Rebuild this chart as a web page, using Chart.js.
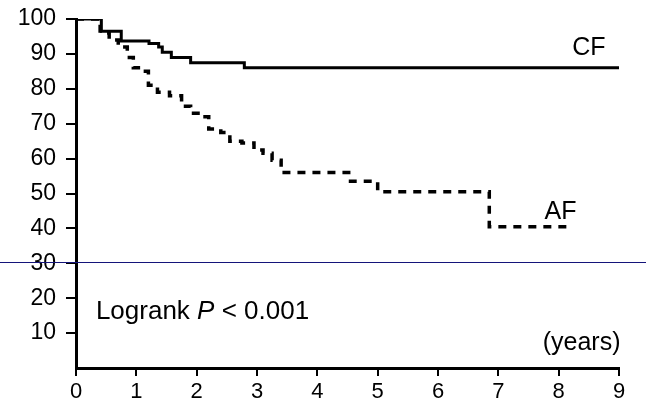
<!DOCTYPE html>
<html>
<head>
<meta charset="utf-8">
<script src="https://cdn.jsdelivr.net/npm/chart.js@4"></script>
<style>
  html, body { margin: 0; padding: 0; background: #fff; }
  #wrap { width: 646px; height: 408px; }
</style>
</head>
<body>
<div id="wrap"><canvas id="myChart" width="646" height="408"></canvas></div>
<script>
// survival curves (years, % event free)
const cfYears = [0, 0.27, 0.42, 0.75, 1.21, 1.37, 1.43, 1.58, 1.9, 2.79, 9.05];
const cfValues = [100, 100, 96.5, 93.7, 93, 92, 90.5, 89, 87.5, 86, 86];

const afYears = [0, 0.4, 0.55, 0.7, 0.85, 0.95, 1.1, 1.2, 1.35, 1.55, 1.75, 1.9, 2.1, 2.2, 2.4, 2.55, 2.75, 2.95, 3.1, 3.25, 3.4, 4.55, 5.0, 6.85, 8.2];
const afValues = [100, 96, 94, 92, 89, 86, 85, 81, 79, 78, 75, 73, 72, 68.5, 67.5, 65, 64.5, 62.5, 61.5, 59.5, 56, 53.5, 50.5, 40.5, 40.5];

const xTicks = [0, 1, 2, 3, 4, 5, 6, 7, 8, 9];
const yTicks = [10, 20, 30, 40, 50, 60, 70, 80, 90, 100];

const FONT = '"Liberation Sans", Arial, Helvetica, sans-serif';

// curve labels and the p-value note, placed in data units
const notesPlugin = {
  id: 'notes',
  afterDraw(chart) {
    const { ctx, scales: { x, y } } = chart;
    ctx.save();
    ctx.fillStyle = '#000';
    ctx.textBaseline = 'middle';

    ctx.font = '25px ' + FONT;
    ctx.textAlign = 'center';
    ctx.fillText('CF', x.getPixelForValue(8.5), y.getPixelForValue(91.7));
    ctx.fillText('AF', x.getPixelForValue(8.03), y.getPixelForValue(44.7));
    ctx.fillText('(years)', x.getPixelForValue(8.38), y.getPixelForValue(7.2));

    // "Logrank P < 0.001" with italic P
    ctx.textAlign = 'left';
    let px = x.getPixelForValue(0.33);
    const py = y.getPixelForValue(16);
    ctx.font = '26px ' + FONT;
    ctx.fillText('Logrank ', px, py);
    px += ctx.measureText('Logrank ').width;
    ctx.font = 'italic 26px ' + FONT;
    ctx.fillText('P', px, py);
    px += ctx.measureText('P').width;
    ctx.font = '26px ' + FONT;
    ctx.fillText(' < 0.001', px, py);

    // the thin blue scan line across the page
    const by = Math.round(y.getPixelForValue(30.3)) + 0.5;
    ctx.strokeStyle = '#14147a';
    ctx.lineWidth = 1;
    ctx.beginPath();
    ctx.moveTo(0, by);
    ctx.lineTo(chart.width, by);
    ctx.stroke();
    ctx.restore();
  }
};

const ctx = document.getElementById('myChart').getContext('2d');
const chart = new Chart(ctx, {
  type: 'line',
  data: {
    datasets: [
      {
        label: 'CF',
        data: cfYears.map((t, i) => ({ x: t, y: cfValues[i] })),
        borderColor: '#000',
        borderWidth: 3,
        stepped: true,
        pointRadius: 0,
        fill: false
      },
      {
        label: 'AF',
        data: afYears.map((t, i) => ({ x: t, y: afValues[i] })),
        borderColor: '#000',
        borderWidth: 3.5,
        borderDash: [8, 7],
        stepped: true,
        pointRadius: 0,
        fill: false
      }
    ]
  },
  options: {
    responsive: false,
    animation: false,
    layout: { padding: { top: 19, right: 27, left: 0, bottom: 0 } },
    plugins: {
      legend: { display: false },
      tooltip: { enabled: false }
    },
    scales: {
      x: {
        type: 'linear',
        min: 0,
        max: 9,
        afterBuildTicks: (s) => { s.ticks = xTicks.map(v => ({ value: v })); },
        afterFit: (s) => { s.height = 40; s.paddingLeft = 0; s.paddingRight = 0; },
        border: { color: '#000', width: 3 },
        grid: { drawOnChartArea: false, color: '#000', lineWidth: 2, tickLength: 8 },
        ticks: { color: '#000', font: { family: FONT, size: 22 }, padding: 3, maxRotation: 0 }
      },
      y: {
        min: 0,
        max: 100,
        afterBuildTicks: (s) => { s.ticks = yTicks.map(v => ({ value: v })); },
        afterFit: (s) => { s.width = 76; s.paddingTop = 0; s.paddingBottom = 0; },
        border: { color: '#000', width: 3 },
        grid: { drawOnChartArea: false, color: '#000', lineWidth: 2, tickLength: 10 },
        ticks: { color: '#000', font: { family: FONT, size: 23 }, padding: 10 }
      }
    }
  },
  plugins: [notesPlugin]
});
</script>
</body>
</html>
